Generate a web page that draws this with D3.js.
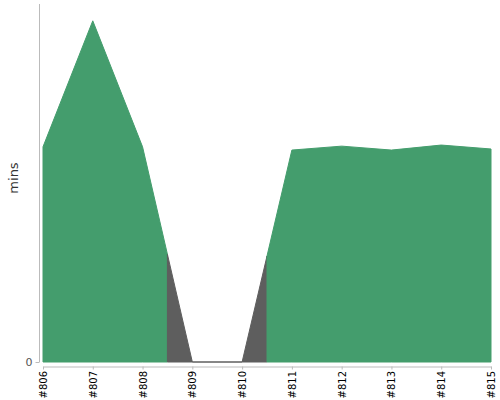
<!DOCTYPE html>
<html>
<head>
<meta charset="utf-8">
<script src="https://cdn.jsdelivr.net/npm/d3@7"></script>
<style>
  body { margin: 0; background: #fff; }
  .axis path, .axis line { stroke: #bbb; }
</style>
</head>
<body>
<div id="main"></div>
<script>
var builds = ["#806", "#807", "#808", "#809", "#810", "#811", "#812", "#813", "#814", "#815"];
var durations = [6.01, 9.53, 6.01, 0, 0, 5.92, 6.03, 5.92, 6.06, 5.95];
var statuses = ["ok", "ok", "ok", "fail", "fail", "ok", "ok", "ok", "ok", "ok"];
var yTicks = [0];

var WIDTH = 500, HEIGHT = 400;
var colors = { ok: "#449d6d", fail: "#5e5e5e" };

var svg = d3.select("#main").append("svg")
	.attr("id", "canvas")
	.attr("width", WIDTH)
	.attr("height", HEIGHT);

var x = d3.scaleLinear().domain([0, builds.length - 1]).range([43, 491]);
var y = d3.scaleLinear().domain([0, 10]).range([362, 4]);

// value at fractional index, linear between builds
function valueAt(t) {
	var i = Math.floor(t), f = t - i;
	if (i >= durations.length - 1) return durations[durations.length - 1];
	return durations[i] * (1 - f) + durations[i + 1] * f;
}

var area = d3.area()
	.x(function(d) { return x(d[0]); })
	.y0(y(0))
	.y1(function(d) { return y(d[1]); });

// group consecutive builds with the same status; each run reaches
// half-way to its neighbours
var runs = [];
statuses.forEach(function(s, i) {
	var last = runs[runs.length - 1];
	if (last && last.status == s) last.end = i;
	else runs.push({ status: s, start: i, end: i });
});

runs.forEach(function(r) {
	var lo = Math.max(0, r.start - 0.5), hi = Math.min(builds.length - 1, r.end + 0.5);
	var pts = [[lo, valueAt(lo)]];
	for (var i = r.start; i <= r.end; i++) pts.push([i, durations[i]]);
	pts.push([hi, valueAt(hi)]);
	svg.append("path")
		.datum(pts)
		.attr("d", area)
		.attr("fill", colors[r.status])
		.attr("stroke", colors[r.status])
		.attr("stroke-width", 1);
});

// y axis
var yAxis = svg.append("g")
	.attr("class", "axis")
	.attr("transform", "translate(39.5,0)")
	.call(d3.axisLeft(y).tickValues(yTicks).tickSize(4).tickSizeOuter(0));
yAxis.select(".domain").attr("d", "M0," + y.range()[1] + "V" + y.range()[0]);
yAxis.selectAll("text")
	.attr("font-family", "DejaVu Sans, sans-serif")
	.attr("font-size", 11)
	.attr("fill", "#555");

// x axis
var xAxis = svg.append("g")
	.attr("class", "axis")
	.attr("transform", "translate(0,366.5)")
	.call(d3.axisBottom(x).tickValues(d3.range(builds.length))
		.tickFormat(function(d) { return builds[d]; })
		.tickSize(3).tickSizeOuter(0));
xAxis.selectAll("text")
	.attr("font-family", "DejaVu Sans, sans-serif")
	.attr("font-size", 10)
	.attr("fill", "#000")
	.attr("text-anchor", "end")
	.attr("transform", "rotate(-90)")
	.attr("x", -4.5)
	.attr("y", 0)
	.attr("dy", "0.35em");

svg.append("text")
	.attr("transform", "translate(18,178) rotate(-90)")
	.attr("text-anchor", "middle")
	.attr("font-family", "DejaVu Sans, sans-serif")
	.attr("font-size", 13)
	.attr("fill", "#333")
	.text("mins");
</script>
</body>
</html>
